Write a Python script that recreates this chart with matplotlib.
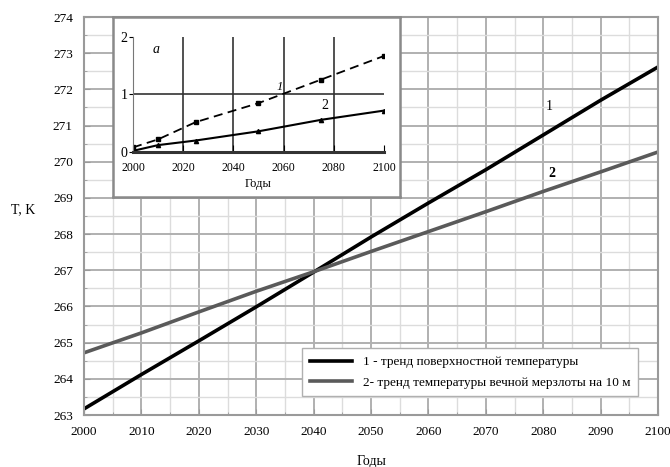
import matplotlib.pyplot as plt
from matplotlib.ticker import MultipleLocator

# main chart: temperature trends, K
years = [2000, 2010, 2020, 2030, 2040, 2050, 2060, 2070, 2080, 2090, 2100]
surface_trend = [263.17, 264.12, 265.05, 265.99, 266.95, 267.92, 268.86, 269.78, 270.74, 271.70, 272.62]
permafrost_trend = [264.72, 265.27, 265.85, 266.42, 266.96, 267.52, 268.07, 268.62, 269.18, 269.72, 270.27]
surface_label = '1 - тренд поверхностной температуры'
permafrost_label = '2- тренд температуры вечной мерзлоты на 10 м'

# inset "a": anomalies
inset_years = [2000, 2010, 2025, 2050, 2075, 2100]
inset_1 = [0.08, 0.22, 0.52, 0.85, 1.26, 1.67]
inset_2 = [0.02, 0.12, 0.20, 0.36, 0.56, 0.72]

plt.rcParams['font.family'] = ['Liberation Serif', 'DejaVu Serif']

fig = plt.figure(figsize=(6.7, 4.67), dpi=100)
ax = fig.add_axes([0.1254, 0.1113, 0.8567, 0.8522])

ax.plot(years, surface_trend, color='black', lw=2.6, label=surface_label)
ax.plot(years, permafrost_trend, color='#5a5a5a', lw=2.6, label=permafrost_label)
ax.set_xlim(2000, 2100)
ax.set_ylim(263, 274)
ax.xaxis.set_major_locator(MultipleLocator(10))
ax.xaxis.set_minor_locator(MultipleLocator(5))
ax.yaxis.set_major_locator(MultipleLocator(1))
ax.yaxis.set_minor_locator(MultipleLocator(0.5))
ax.grid(which='major', color='#b0b0b0', lw=1.4)
ax.grid(which='minor', color='#dcdcdc', lw=1.0)
ax.set_axisbelow(True)
for s in ax.spines.values():
    s.set_color('#9a9a9a')
    s.set_linewidth(1.5)
ax.tick_params(which='both', direction='in', color='#9a9a9a', labelsize=9.5, pad=8)
ax.tick_params(which='major', length=4)
ax.tick_params(which='minor', length=2)
ax.set_xlabel('Годы', fontsize=10, labelpad=12)
fig.text(0.034, 0.55, 'T, K', fontsize=10, ha='center', va='center')

ax.text(2081, 271.35, '1', fontsize=10, ha='center', va='bottom')
ax.text(2081.5, 269.5, '2', fontsize=10, ha='center', va='bottom', fontweight='bold')

leg = ax.legend(loc='lower right', bbox_to_anchor=(0.977, 0.03), fontsize=9.5,
                fancybox=False, edgecolor='#b0b0b0', framealpha=1,
                handlelength=3.2, borderpad=0.6, labelspacing=0.6)

# white box behind inset
box = fig.add_axes([0.169, 0.578, 0.428, 0.3856])
box.set_xticks([])
box.set_yticks([])
box.set_facecolor('white')
for s in box.spines.values():
    s.set_color('#8a8a8a')
    s.set_linewidth(1.8)

ins = fig.add_axes([0.1985, 0.6745, 0.3746, 0.2463])
ins.patch.set_alpha(0)
ins.plot(inset_years, inset_1, color='black', lw=1.3, ls=(0, (5, 3)),
         marker='s', ms=3)
ins.plot(inset_years, inset_2, color='black', lw=1.5, marker='^', ms=3)
ins.set_xlim(2000, 2100)
ins.set_ylim(0, 2)
ins.set_xticks([2000, 2020, 2040, 2060, 2080, 2100])
ins.set_yticks([0, 1, 2])
for x in [2020, 2040, 2060, 2080]:
    ins.axvline(x, color='#333333', lw=1.2, zorder=0)
ins.axhline(1, color='#333333', lw=1.2, zorder=0)
ins.spines['top'].set_visible(False)
ins.spines['right'].set_visible(False)
ins.spines['left'].set_color('#777777')
ins.spines['left'].set_linewidth(0.8)
ins.spines['bottom'].set_color('#333333')
ins.spines['bottom'].set_linewidth(2.2)
ins.tick_params(axis='x', direction='in', length=5, labelsize=8.5, pad=7)
ins.tick_params(axis='y', length=3, labelsize=10, pad=1)
ins.set_xlabel('Годы', fontsize=9, labelpad=3)
ins.text(2008, 1.72, 'a', fontsize=10, style='italic')
ins.text(2057, 1.08, '1', fontsize=9, style='italic')
ins.text(2075, 0.75, '2', fontsize=10)

fig.savefig('out.png', dpi=100)
